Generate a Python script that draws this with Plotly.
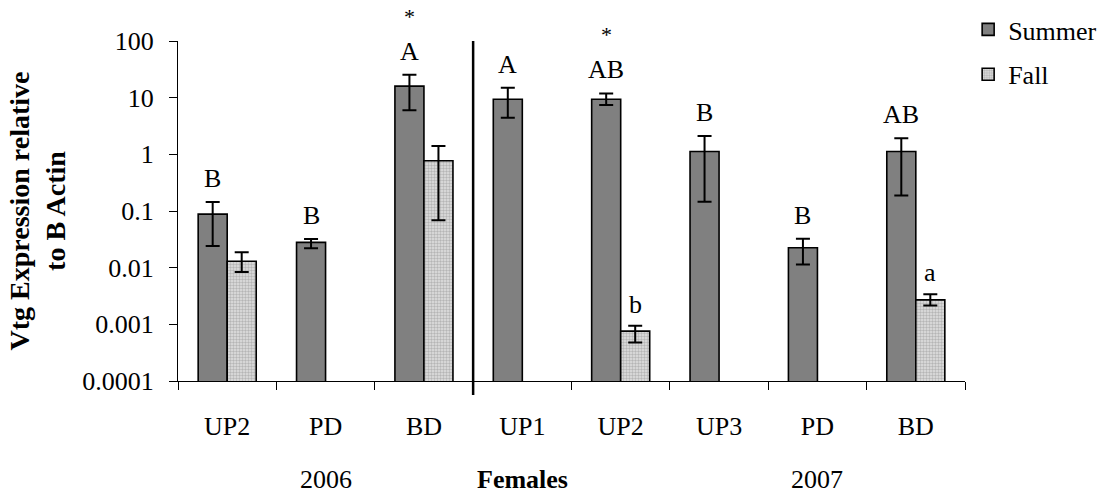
import numpy as np
import plotly.graph_objects as go

# ---- data ----
categories = ["UP2", "PD", "BD", "UP1", "UP2", "UP3", "PD", "BD"]
summer = [0.088, 0.028, 16.0, 9.4, 9.4, 1.12, 0.0224, 1.12]
summer_hi = [0.144, 0.032, 25.3, 14.9, 11.9, 2.1, 0.0324, 1.93]
summer_lo = [0.024, 0.022, 6.0, 4.4, 7.4, 0.145, 0.0114, 0.188]
fall = [0.013, None, 0.77, None, 0.00076, None, None, 0.0027]
fall_hi = [0.0188, None, 1.41, None, 0.00094, None, None, 0.0034]
fall_lo = [0.0084, None, 0.069, None, 0.00048, None, None, 0.00216]
summer_letters = ["B", "B", "A", "A", "AB", "B", "B", "AB"]
fall_letters = ["", "", "", "", "b", "", "", "a"]
summer_star = [False, False, True, False, True, False, False, False]
group_labels = ["2006", "<b>Females</b>", "2007"]
group_pos = [1, 3, 6]
ytick_vals = [0.0001, 0.001, 0.01, 0.1, 1, 10, 100]
ytick_text = ["0.0001", "0.001", "0.01", "0.1", "1", "10", "100"]

FONT = "Liberation Serif, Times New Roman, serif"
FS = 26

x = list(range(len(categories)))


def err(vals, hi, lo):
    plus = [None if v is None else h - v for v, h in zip(vals, hi)]
    minus = [None if v is None else v - l for v, l in zip(vals, lo)]
    return plus, minus


sp, sm = err(summer, summer_hi, summer_lo)
fp, fm = err(fall, fall_hi, fall_lo)

fig = go.Figure()
fig.add_trace(go.Bar(
    x=x, y=summer, name="Summer", legendgroup="s",
    marker=dict(color="#808080", line=dict(color="black", width=1.6)),
    error_y=dict(type="data", symmetric=False, array=sp, arrayminus=sm,
                 color="black", thickness=2, width=7),
))
fig.add_trace(go.Bar(
    x=x, y=fall, name="Fall", legendgroup="f",
    marker=dict(color="#e0e0e0", line=dict(color="black", width=1.6),
                pattern=dict(shape=".", fgcolor="#8a8a8a", size=3, solidity=0.5)),
    error_y=dict(type="data", symmetric=False, array=fp, arrayminus=fm,
                 color="black", thickness=2, width=7),
))

# overlay axis for boundary tick marks
fig.add_trace(go.Scatter(x=[None], y=[None], xaxis="x2", showlegend=False, hoverinfo="skip"))

annotations = []
for i in x:
    if summer_letters[i]:
        annotations.append(dict(x=i - 0.147, y=np.log10(summer_hi[i]), xref="x", yref="y",
                                text=summer_letters[i], showarrow=False, yanchor="bottom",
                                yshift=7, font=dict(family=FONT, size=FS, color="black")))
    if summer_star[i]:
        annotations.append(dict(x=i - 0.147, y=np.log10(summer_hi[i]), xref="x", yref="y",
                                text="*", showarrow=False, yanchor="bottom",
                                yshift=44, font=dict(family=FONT, size=22, color="black")))
    if fall_letters[i]:
        annotations.append(dict(x=i + 0.147, y=np.log10(fall_hi[i]), xref="x", yref="y",
                                text=fall_letters[i], showarrow=False, yanchor="bottom",
                                yshift=5, font=dict(family=FONT, size=FS, color="black")))
for t, p in zip(group_labels, group_pos):
    annotations.append(dict(x=p, y=-0.29, xref="x", yref="paper", text=t, showarrow=False,
                            yanchor="middle", font=dict(family=FONT, size=FS, color="black")))

fig.update_layout(
    width=1109, height=498,
    margin=dict(l=178, r=144, t=41, b=117, autoexpand=False),
    paper_bgcolor="white", plot_bgcolor="white",
    barmode="group", bargap=0.41, bargroupgap=0,
    font=dict(family=FONT, size=FS, color="black"),
    showlegend=True,
    legend=dict(x=1.004, y=1.103, xanchor="left", yanchor="top",
                font=dict(family=FONT, size=FS, color="black"),
                tracegroupgap=8, bgcolor="rgba(0,0,0,0)"),
    xaxis=dict(range=[-0.5, 7.5], tickmode="array", tickvals=x, ticktext=categories,
               ticks="", showline=True, linecolor="black", linewidth=1, showgrid=False,
               zeroline=False, ticklabelstandoff=22,
               tickfont=dict(family=FONT, size=FS, color="black")),
    xaxis2=dict(range=[-0.5, 7.5], overlaying="x", anchor="y", side="bottom",
                tickmode="array", tickvals=[v - 0.5 for v in range(len(categories) + 1)],
                ticks="outside", ticklen=8, tickcolor="black", tickwidth=1,
                showticklabels=False, showgrid=False, zeroline=False, showline=False),
    yaxis=dict(type="log", range=[-4, 2], tickmode="array", tickvals=ytick_vals,
               ticktext=ytick_text, ticks="outside", ticklen=8, tickcolor="black",
               showline=True, linecolor="black", linewidth=1, showgrid=False,
               zeroline=False, ticklabelstandoff=10,
               tickfont=dict(family=FONT, size=FS, color="black"),
               title=dict(text="<b>Vtg Expression relative<br>to B Actin</b>",
                          font=dict(family=FONT, size=28, color="black"), standoff=8)),
    shapes=[dict(type="line", xref="x", yref="paper", x0=2.5, x1=2.5, y0=-0.041, y1=1.0,
                 line=dict(color="black", width=2.5))],
    annotations=annotations,
)

fig.write_html("out.html")
